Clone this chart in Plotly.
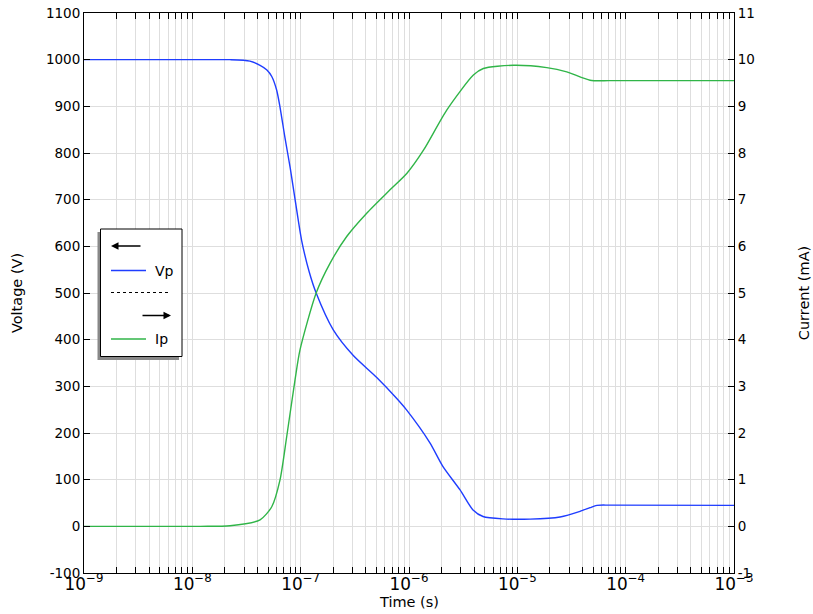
import plotly.graph_objects as go

# ---- data ----
t_vp = [1e-9, 1.18e-8, 2.23e-8, 3.40e-8, 4.22e-8, 4.88e-8, 5.41e-8, 6.00e-8, 6.44e-8, 7.16e-8,
        8.02e-8, 8.87e-8, 1.02e-7, 1.20e-7, 1.39e-7, 2.00e-7, 3.06e-7, 5.04e-7, 7.71e-7,
        9.53e-7, 1.56e-6, 2.06e-6, 2.96e-6, 3.90e-6, 4.82e-6, 7.38e-6, 1.31e-5, 2.48e-5,
        3.79e-5, 4.69e-5, 5.43e-5, 7.16e-5, 1e-3]
vp = [1000, 1000, 1000, 997, 988, 978, 964, 935, 899, 833,
      767, 701, 613, 545, 500, 421, 366, 319, 274,
      249, 179, 128, 78, 35, 21, 16, 15.5, 20,
      32, 40, 45, 45.5, 45]

t_ip = [1e-9, 1.18e-8, 2.23e-8, 4.22e-8, 5.41e-8, 6.44e-8, 7.43e-8, 8.87e-8, 9.86e-8,
        1.39e-7, 1.87e-7, 2.66e-7, 4.07e-7, 6.68e-7, 9.53e-7, 1.36e-6, 2.23e-6, 3.93e-6,
        4.85e-6, 9.19e-6, 1.87e-5, 2.86e-5, 4.69e-5, 7.16e-5, 1e-3]
ip = [0, 0, 0.013, 0.14, 0.42, 0.99, 1.92, 3.14, 3.78,
      5.0, 5.64, 6.21, 6.71, 7.21, 7.56, 8.06, 8.92, 9.67,
      9.81, 9.88, 9.83, 9.74, 9.56, 9.55, 9.55]

names = ["Vp", "Ip"]
colors = ["#1f3dff", "#30b548"]

v_ticks = list(range(-100, 1101, 100))
i_ticks = list(range(-1, 12))

FONT = "DejaVu Sans"
GRID = "#dedede"
TICK_SIZE = 13.5
TITLE_SIZE = 14.5

fig = go.Figure()
fig.add_trace(go.Scatter(x=t_vp, y=vp, name=names[0], mode="lines",
                         line=dict(color=colors[0], width=1.4, shape="spline", smoothing=0.7),
                         yaxis="y"))
fig.add_trace(go.Scatter(x=t_ip, y=ip, name=names[1], mode="lines",
                         line=dict(color=colors[1], width=1.4, shape="spline", smoothing=0.7),
                         yaxis="y2"))

# ---- manual legend (paper coords) ----
W, H = 650.0, 560.0
X0, Y0 = 84.0, 13.0
def px(x):
    return (x - X0) / W
def py(y):
    return 1 - (y - Y0) / H

shapes = []
shapes.append(dict(type="rect", xref="paper", yref="paper",
                   x0=px(97.5), x1=px(179), y0=py(360), y1=py(232),
                   fillcolor="#888888", line=dict(width=0), layer="above"))
shapes.append(dict(type="rect", xref="paper", yref="paper",
                   x0=px(100.5), x1=px(182), y0=py(356.5), y1=py(229),
                   fillcolor="white", line=dict(color="black", width=1), layer="above"))
shapes.append(dict(type="line", xref="paper", yref="paper",
                   x0=px(111), x1=px(146), y0=py(270.5), y1=py(270.5),
                   line=dict(color=colors[0], width=1.4), layer="above"))
shapes.append(dict(type="line", xref="paper", yref="paper",
                   x0=px(111), x1=px(171), y0=py(292.5), y1=py(292.5),
                   line=dict(color="black", width=1, dash="dot"), layer="above"))
shapes.append(dict(type="line", xref="paper", yref="paper",
                   x0=px(111), x1=px(146), y0=py(339), y1=py(339),
                   line=dict(color=colors[1], width=1.4), layer="above"))

annotations = [
    dict(xref="paper", yref="paper", x=px(153), y=py(270.5), text=names[0], showarrow=False,
         xanchor="left", yanchor="middle", font=dict(family=FONT, size=14, color="black")),
    dict(xref="paper", yref="paper", x=px(153), y=py(339), text=names[1], showarrow=False,
         xanchor="left", yanchor="middle", font=dict(family=FONT, size=14, color="black")),
    dict(xref="paper", yref="paper", x=px(111), y=py(246), ax=31, ay=0,
         axref="pixel", ayref="pixel", text="", showarrow=True, arrowhead=2,
         arrowsize=1, arrowwidth=1.5, arrowcolor="black"),
    dict(xref="paper", yref="paper", x=px(171), y=py(315.5), ax=-30, ay=0,
         axref="pixel", ayref="pixel", text="", showarrow=True, arrowhead=2,
         arrowsize=1, arrowwidth=1.5, arrowcolor="black"),
    # x-axis title
    dict(xref="paper", yref="paper", x=0.5, y=py(602), text="Time (s)", showarrow=False,
         xanchor="center", yanchor="middle", font=dict(family=FONT, size=TITLE_SIZE, color="black")),
]

axis_common = dict(showline=True, linecolor="black", linewidth=1, ticks="inside",
                   ticklen=6, tickcolor="black", automargin=False,
                   tickfont=dict(family=FONT, size=TICK_SIZE, color="black"))

fig.update_layout(
    width=813, height=614,
    margin=dict(l=84, r=79, t=13, b=41),
    paper_bgcolor="white", plot_bgcolor="white",
    showlegend=False,
    font=dict(family=FONT, size=13, color="black"),
    xaxis=dict(type="log", range=[-9, -3], dtick=1, exponentformat="power",
               showgrid=True, gridcolor=GRID, zeroline=False, mirror="ticks",
               ticklabelstandoff=-4,
               minor=dict(ticks="inside", ticklen=6, tickcolor="black", dtick="D1",
                          showgrid=True, gridcolor=GRID),
               **axis_common),
    yaxis=dict(range=[-100, 1100], tickvals=v_ticks, ticktext=[str(v) for v in v_ticks],
               showgrid=True, gridcolor=GRID, zeroline=False, mirror=True,
               title=dict(text="Voltage (V)", standoff=19, font=dict(family=FONT, size=TITLE_SIZE)),
               **axis_common),
    yaxis2=dict(range=[-1, 11], tickvals=i_ticks, ticktext=[str(v) for v in i_ticks],
                overlaying="y", side="right", showgrid=False, zeroline=False,
                title=dict(text="Current (mA)", standoff=44, font=dict(family=FONT, size=TITLE_SIZE)),
                **axis_common),
    shapes=shapes,
    annotations=annotations,
)

fig.write_html("out.html")
